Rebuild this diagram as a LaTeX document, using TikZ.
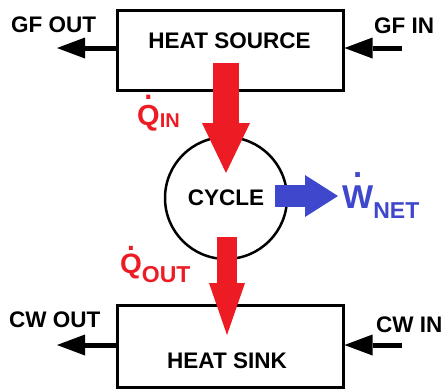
\documentclass[tikz,border=0pt]{standalone}
\usepackage{fontspec}
\setmainfont{Liberation Sans}
\usetikzlibrary{arrows.meta}
\definecolor{heatred}{HTML}{ED1C24}
\definecolor{workblue}{HTML}{3F48CC}
% dot over a letter (rate symbol), #1 = gap above the letter
\newcommand\dotover[2]{\setbox0\hbox{#2}\hbox to\wd0{\hss\raisebox{\dimexpr\ht0+#1\relax}{.}\hss}\kern-\wd0\box0}
\begin{document}
\begin{tikzpicture}[x=1pt, y=-1pt,
    every node/.style={font=\bfseries\fontsize{22.5}{25}\selectfont, inner sep=0pt},
    blockbox/.style={draw, line width=3pt, minimum width=226pt},
    stream/.style={line width=5pt, -{Triangle[width=21pt,length=28pt,line width=0pt]}}]
    \useasboundingbox (0,0) rectangle (443,389);
    % heat source, cycle, heat sink
    \node[blockbox, minimum height=80pt] (src) at (230,50) {};
    \node[blockbox, minimum height=82pt] (snk) at (230,346) {};
    \node[draw, circle, line width=2.5pt, minimum size=122pt] (cyc) at (226,198) {CYCLE};
    \node[anchor=base] (srctxt) at (229.5,48) {HEAT SOURCE};
    \node[anchor=base] (snktxt) at (227,368) {HEAT SINK};
    % fluid streams
    \coordinate (gfout) at (57,48);
    \coordinate (gfin) at (402,48);
    \coordinate (cwout) at (57,345);
    \coordinate (cwin) at (402,345);
    \draw[stream] ([yshift=2pt]src.west) -- (gfout);
    \draw[stream] (gfin) -- ([yshift=2pt]src.east);
    \draw[stream] ([yshift=1pt]snk.west) -- (cwout);
    \draw[stream] (cwin) -- ([yshift=1pt]snk.east);
    \node[anchor=base west] (gfoutlbl) at (11,32) {GF OUT};
    \node[anchor=base west] (gfinlbl) at (374,33) {GF IN};
    \node[anchor=base west] (cwoutlbl) at (9,327) {CW OUT};
    \node[anchor=base west] (cwinlbl) at (376,332) {CW IN};
    % heat and work
    \coordinate (qinA) at (226,63);
    \coordinate (qinB) at (226,173);
    \coordinate (qoutA) at (227,237);
    \coordinate (qoutB) at (227,335);
    \coordinate (wnetA) at (275,196);
    \coordinate (wnetB) at (338,196);
    \draw[heatred, line width=26pt, -{Triangle[width=48pt,length=50pt,line width=0pt]}] (qinA) -- (qinB);
    \draw[heatred, line width=20pt, -{Triangle[width=36pt,length=52pt,line width=0pt]}] (qoutA) -- (qoutB);
    \draw[workblue, line width=22pt, -{Triangle[width=42pt,length=33pt,line width=0pt]}] (wnetA) -- (wnetB);
    \node[heatred, anchor=base west] (qinlbl) at (137,125)
      {{\fontsize{29}{29}\selectfont\dotover{5pt}{Q}}\raisebox{-2pt}{\fontsize{20}{20}\selectfont IN}};
    \node[heatred, anchor=base west] (qoutlbl) at (120,273)
      {{\fontsize{28}{28}\selectfont\dotover{3pt}{Q}}\raisebox{-9pt}{\fontsize{23}{23}\selectfont OUT}};
    \node[workblue, anchor=base west] (wnetlbl) at (342,208)
      {{\fontsize{33}{33}\selectfont\dotover{8pt}{W}}\raisebox{-10pt}{\fontsize{23}{23}\selectfont NET}};
\end{tikzpicture}
\end{document}
